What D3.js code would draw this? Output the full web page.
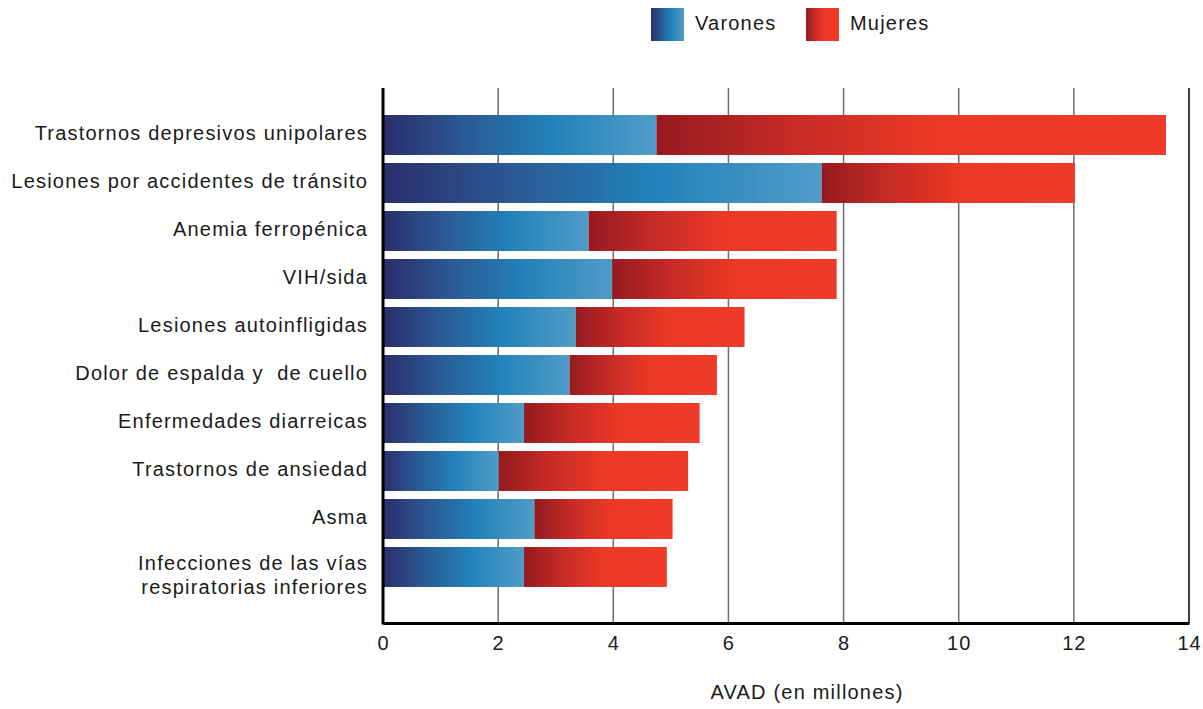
<!DOCTYPE html>
<html><head><meta charset="utf-8">
<script src="https://cdn.jsdelivr.net/npm/d3@7"></script>
<style>body{margin:0;background:#fff}svg{display:block}text{font-family:"Liberation Sans",Arial,sans-serif;fill:#1a1a1a;white-space:pre}</style>
</head><body><svg id="c" width="1203" height="709"></svg>
<script>
const categories = ["Trastornos depresivos unipolares","Lesiones por accidentes de tránsito","Anemia ferropénica","VIH/sida","Lesiones autoinfligidas","Dolor de espalda y  de cuello","Enfermedades diarreicas","Trastornos de ansiedad","Asma","Infecciones de las vías|respiratorias inferiores"];
const varones = [4.75, 7.62, 3.57, 3.98, 3.35, 3.24, 2.45, 2.01, 2.63, 2.45];
const mujeres = [8.85, 4.40, 4.31, 3.90, 2.93, 2.56, 3.05, 3.29, 2.40, 2.48];
const xTicks = [0,2,4,6,8,10,12,14];
const seriesNames = ["Varones","Mujeres"];

const svg = d3.select("#c");
const defs = svg.append("defs");
const gM = defs.append("linearGradient").attr("id","gM");
[[0,"#2b2d6b"],[0.3,"#2a5a95"],[0.62,"#2282ba"],[1,"#509cc8"]].forEach(s=>gM.append("stop").attr("offset",s[0]).attr("stop-color",s[1]));
const gW = defs.append("linearGradient").attr("id","gW");
[[0,"#941a20"],[0.25,"#c32a26"],[0.55,"#ec3926"],[1,"#ee3a26"]].forEach(s=>gW.append("stop").attr("offset",s[0]).attr("stop-color",s[1]));

const x = d3.scaleLinear().domain([0,14]).range([383,1189]);
const y = d3.scaleBand().domain(categories).range([111,591]).paddingInner(1/6).paddingOuter(1/12);

// grid
svg.append("g").selectAll("line").data(xTicks.slice(1)).join("line")
  .attr("x1",d=>x(d)).attr("x2",d=>x(d)).attr("y1",88).attr("y2",623)
  .attr("stroke",d=>d===14?"#000":"#6e6e6e").attr("stroke-width",1.5);

const rows = categories.map((c,i)=>({c,m:varones[i],w:mujeres[i]}));
svg.append("g").selectAll("rect").data(rows).join("rect")
  .attr("x",x(0)).attr("y",d=>y(d.c)).attr("width",d=>x(d.m)-x(0)).attr("height",y.bandwidth()).attr("fill","url(#gM)");
svg.append("g").selectAll("rect").data(rows).join("rect")
  .attr("x",d=>x(d.m)).attr("y",d=>y(d.c)).attr("width",d=>x(d.m+d.w)-x(d.m)).attr("height",y.bandwidth()).attr("fill","url(#gW)");

// axes
const xa = svg.append("g").attr("transform","translate(0,623)").call(d3.axisBottom(x).tickValues(xTicks).tickSize(0).tickPadding(13));
xa.select(".domain").attr("stroke","#000").attr("stroke-width",3);
xa.selectAll("text").style("font-family","Liberation Sans, Arial, sans-serif").style("font-size","20px").style("letter-spacing","1px").attr("fill","#1a1a1a");
svg.append("line").attr("x1",383).attr("x2",383).attr("y1",88).attr("y2",624.5).attr("stroke","#000").attr("stroke-width",3);

// category labels
const lab = svg.append("g").selectAll("text").data(categories).join("text")
  .attr("text-anchor","end").attr("x",368).style("font-size","20px").style("letter-spacing","1.2px");
lab.each(function(d){
  const parts=d.split("|"); const t=d3.select(this); const cy=y(d)+y.bandwidth()/2-2;
  if(parts.length===1){ t.attr("y",cy).attr("dy","0.35em").text(d); }
  else { parts.forEach((p,k)=>t.append("tspan").attr("x",368).attr("y",cy-2+24*k).attr("dy","0.35em").text(p)); }
});

// axis title
svg.append("text").attr("x",807).attr("y",692).attr("dy","0.35em").attr("text-anchor","middle").style("font-size","20px").style("letter-spacing","1.2px").text("AVAD (en millones)");

// legend
const lg = svg.append("g").selectAll("g").data(seriesNames).join("g").attr("transform",(d,i)=>`translate(${[651,806][i]},8)`);
lg.append("rect").attr("width",33).attr("height",33).attr("fill",(d,i)=>i?"url(#gW)":"url(#gM)");
lg.append("text").attr("x",44).attr("y",15).attr("dy","0.35em").style("font-size","20px").style("letter-spacing","1.2px").text(d=>d);
</script></body></html>
